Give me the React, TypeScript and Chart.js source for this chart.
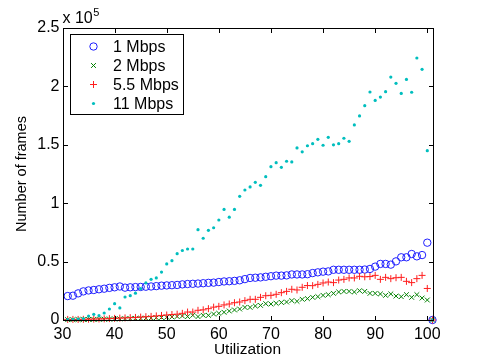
import React, { useEffect, useRef } from "react";
import { Chart, registerables } from "chart.js";

Chart.register(...registerables);

const utilization = [
  31, 32, 33, 34, 35, 36, 37, 38, 39, 40, 41, 42, 43, 44, 45, 46, 47, 48, 49, 50,
  51, 52, 53, 54, 55, 56, 57, 58, 59, 60, 61, 62, 63, 64, 65, 66, 67, 68, 69, 70,
  71, 72, 73, 74, 75, 76, 77, 78, 79, 80, 81, 82, 83, 84, 85, 86, 87, 88, 89, 90,
  91, 92, 93, 94, 95, 96, 97, 98, 99, 100, 101,
];

// values in thousands of frames
const mbps1 = [
  20.5, 20.8, 22.8, 24.5, 25.3, 25.7, 26.3, 26.8, 27.5, 28, 28.7, 27.7, 28, 28.2, 28.3, 28.5, 28.7, 29, 29.4, 29.6,
  29.8, 30, 30.5, 30.8, 31, 31.2, 31.5, 31.8, 32, 32.5, 33, 33.2, 33.5, 34, 35, 36, 36.2, 36.5, 37, 37.5,
  38, 38, 38.2, 39, 39, 39, 39.2, 40.2, 40.8, 41.4, 41.6, 43, 43, 43, 43, 43, 43, 43.2, 43.7, 45.7,
  48, 48, 47.4, 50.2, 53.7, 53.7, 56.5, 54.5, 55.6, 66.2, 0,
];
const mbps2 = [
  0.3, 0.3, 0.4, 0.4, 0.5, 0.5, 0.6, 0.7, 0.8, 0.9, 1.0, 1.1, 1.2, 1.4, 1.5, 1.6, 1.8, 2.0, 2.2, 2.4,
  2.6, 3.0, 3.4, 2.9, 4.0, 2.9, 4.0, 4.0, 5.1, 5.7, 6.6, 7.7, 8.6, 9.4, 10.8, 10.8, 12, 12.5, 14, 13.7,
  14.3, 15, 15.4, 16.6, 16, 17.7, 18.3, 19.4, 20, 21.1, 21.7, 22.8, 24, 24.5, 24.5, 24, 25.1, 24.5, 22.8, 22.8,
  22.3, 21.1, 22.3, 20.5, 20, 21.7, 19.4, 21.7, 18.8, 17.1, 0,
];
const mbps55 = [
  0.5, 0.5, 0.5, 0.6, 0.7, 0.8, 0.9, 1.0, 1.2, 1.4, 1.6, 1.8, 2.0, 2.2, 2.5, 2.8, 3.1, 3.5, 3.9, 4.3,
  4.7, 5.0, 5.7, 6.8, 6.8, 8.3, 8.7, 9.7, 11, 11.7, 12.9, 13.7, 14.8, 15.4, 16.6, 17.7, 17.7, 19.4, 20.8, 21.1,
  22, 23.4, 24.5, 26.3, 25.7, 28, 29.5, 29.4, 30.5, 31.7, 32.5, 32, 34.2, 34.8, 36, 36, 37.4, 37, 37.2, 38.2,
  34.8, 36.5, 35.4, 36.2, 36.5, 33.1, 32, 35.4, 38.2, 27, 0,
];
const mbps11 = [
  0.3, 0.5, 0.8, 1.2, 3.4, 4.9, 3.7, 6, 9.4, 14, 10.3, 19.7, 20.8, 23, 26.8, 31.7, 34.8, 36, 41, 48,
  50.8, 56.8, 59.5, 60.8, 60.8, 77.3, 70, 76.8, 79, 85.6, 94.7, 88, 94.7, 105.9, 111.3, 113.9, 117.9, 115.3, 122.7, 131.3,
  134.7, 130.7, 135.9, 135.3, 147.3, 144, 149.2, 151, 154.7, 149.6, 156.4, 150, 151, 155.6, 153, 167, 174.7, 183.5, 195.2, 188,
  190.9, 195.5, 208, 202.6, 194, 206, 195, 224.3, 214.6, 145, 0,
];

const seriesLabels = ["1 Mbps", "2 Mbps", "5.5 Mbps", "11 Mbps"];
const xTicks = [30, 40, 50, 60, 70, 80, 90, 100];
const yTicks = [0, 50000, 100000, 150000, 200000, 250000];

const FONT = "'Liberation Sans', Arial, Helvetica, sans-serif";

type Style = { kind: string; color: string; radius: number };
const styles: Style[] = [
  { kind: "circle", color: "rgb(30,30,255)", radius: 3.7 },
  { kind: "x", color: "rgb(0,128,0)", radius: 3.4 },
  { kind: "plus", color: "rgb(255,30,30)", radius: 3.5 },
  { kind: "dot", color: "rgb(0,190,190)", radius: 1.6 },
];

function drawMarker(ctx: CanvasRenderingContext2D, s: Style, x: number, y: number) {
  ctx.save();
  ctx.strokeStyle = s.color;
  ctx.fillStyle = s.color;
  ctx.lineWidth = 1;
  ctx.beginPath();
  if (s.kind === "circle") {
    ctx.arc(x, y, s.radius, 0, Math.PI * 2);
    ctx.stroke();
  } else if (s.kind === "x") {
    const d = s.radius * 0.707;
    ctx.moveTo(x - d, y - d);
    ctx.lineTo(x + d, y + d);
    ctx.moveTo(x - d, y + d);
    ctx.lineTo(x + d, y - d);
    ctx.stroke();
  } else if (s.kind === "plus") {
    ctx.moveTo(x - s.radius, y);
    ctx.lineTo(x + s.radius, y);
    ctx.moveTo(x, y - s.radius);
    ctx.lineTo(x, y + s.radius);
    ctx.stroke();
  } else {
    ctx.arc(x, y, s.radius, 0, Math.PI * 2);
    ctx.fill();
  }
  ctx.restore();
}

const decorPlugin = {
  id: "decor",
  afterDraw(chart: any) {
    const { ctx, chartArea } = chart;
    const xs = chart.scales.x;
    const ys = chart.scales.y;
    const L = Math.round(chartArea.left) + 0.5;
    const R = Math.round(chartArea.right) + 0.5;
    const T = Math.round(chartArea.top) + 0.5;
    const B = Math.round(chartArea.bottom) + 0.5;
    ctx.save();
    ctx.strokeStyle = "#000";
    ctx.lineWidth = 1;
    ctx.strokeRect(L, T, R - L, B - T);
    const tl = 4.5;
    ctx.beginPath();
    xTicks.forEach((v) => {
      const px = Math.round(xs.getPixelForValue(v)) + 0.5;
      ctx.moveTo(px, B);
      ctx.lineTo(px, B - tl);
      ctx.moveTo(px, T);
      ctx.lineTo(px, T + tl);
    });
    yTicks.forEach((v) => {
      const py = Math.round(ys.getPixelForValue(v)) + 0.5;
      ctx.moveTo(L, py);
      ctx.lineTo(L + tl, py);
      ctx.moveTo(R, py);
      ctx.lineTo(R - tl, py);
    });
    ctx.stroke();

    // exponent label
    ctx.fillStyle = "#000";
    ctx.textBaseline = "alphabetic";
    ctx.textAlign = "left";
    ctx.font = `16px ${FONT}`;
    ctx.fillText("x 10", chartArea.left, 23);
    const w = ctx.measureText("x 10").width;
    ctx.font = `11px ${FONT}`;
    ctx.fillText("5", chartArea.left + w + 0.5, 16);

    // legend
    const bx = 70.5, by = 34.5, bw = 113, bh = 80;
    ctx.fillStyle = "#fff";
    ctx.fillRect(bx, by, bw, bh);
    ctx.strokeStyle = "#000";
    ctx.strokeRect(bx, by, bw, bh);
    ctx.font = `16px ${FONT}`;
    ctx.textBaseline = "middle";
    seriesLabels.forEach((lab, i) => {
      const yy = 46.5 + i * 19;
      drawMarker(ctx, styles[i], 93.5, yy);
      ctx.fillStyle = "#000";
      ctx.fillText(lab, 113, yy + 1);
    });
    ctx.restore();
  },
};

export default function App() {
  const ref = useRef<HTMLCanvasElement | null>(null);
  useEffect(() => {
    document.body.style.margin = "0";
    const pointStyleOf = (k: string) =>
      k === "circle" ? "circle" : k === "x" ? "crossRot" : k === "plus" ? "cross" : "circle";
    const seriesData = [mbps1, mbps2, mbps55, mbps11];
    const orders = [3, 2, 1, 0];
    const datasets = seriesData.map((arr, i) => {
      const s = styles[i];
      const r = s.radius;
      return {
        label: seriesLabels[i],
        data: arr.map((v, j) => ({ x: utilization[j], y: v * 1000 })),
        showLine: false,
        pointStyle: pointStyleOf(s.kind),
        pointRadius: r,
        pointHoverRadius: r,
        pointBorderColor: s.color,
        pointBackgroundColor: s.kind === "dot" ? s.color : "rgba(0,0,0,0)",
        pointBorderWidth: s.kind === "dot" ? 0 : 1,
        borderColor: s.color,
        backgroundColor: s.color,
        clip: false as any,
        order: orders[i],
      };
    });
    const chart = new Chart(ref.current as HTMLCanvasElement, {
      type: "scatter",
      data: { datasets: datasets as any },
      options: {
        responsive: false,
        animation: false,
        events: [],
        layout: { padding: { left: 0, right: 46.5, top: 28, bottom: 0 } },
        plugins: { legend: { display: false }, tooltip: { enabled: false } },
        font: { family: FONT },
        scales: {
          x: {
            type: "linear",
            min: 30,
            max: 101,
            grid: { display: false, drawTicks: false },
            border: { display: false },
            afterBuildTicks: (axis: any) => {
              axis.ticks = xTicks.map((v) => ({ value: v }));
            },
            afterFit: (axis: any) => {
              axis.height = 40;
            },
            ticks: {
              color: "#000",
              padding: 4.5,
              maxRotation: 0,
              autoSkip: false,
              font: { family: FONT, size: 16 },
              callback: (v: any) => String(v),
            },
            title: {
              display: true,
              text: "Utilization",
              color: "#000",
              font: { family: FONT, size: 15.5 },
              padding: { top: 0, bottom: 1 },
            },
          },
          y: {
            type: "linear",
            min: 0,
            max: 250000,
            grid: { display: false, drawTicks: false },
            border: { display: false },
            afterBuildTicks: (axis: any) => {
              axis.ticks = yTicks.map((v) => ({ value: v }));
            },
            afterFit: (axis: any) => {
              axis.width = 62.5;
            },
            ticks: {
              color: "#000",
              padding: 3,
              autoSkip: false,
              font: { family: FONT, size: 16 },
              callback: (v: any) => String(Number(v) / 100000),
            },
            title: {
              display: true,
              text: "Number of frames",
              color: "#000",
              font: { family: FONT, size: 14.5 },
              padding: { top: 13.3, bottom: 0 },
            },
          },
        },
      } as any,
      plugins: [decorPlugin],
    });
    return () => chart.destroy();
  }, []);
  return (
    <div style={{ width: 479, height: 360, background: "#fff" }}>
      <canvas ref={ref} width={479} height={360} style={{ display: "block" }} />
    </div>
  );
}
